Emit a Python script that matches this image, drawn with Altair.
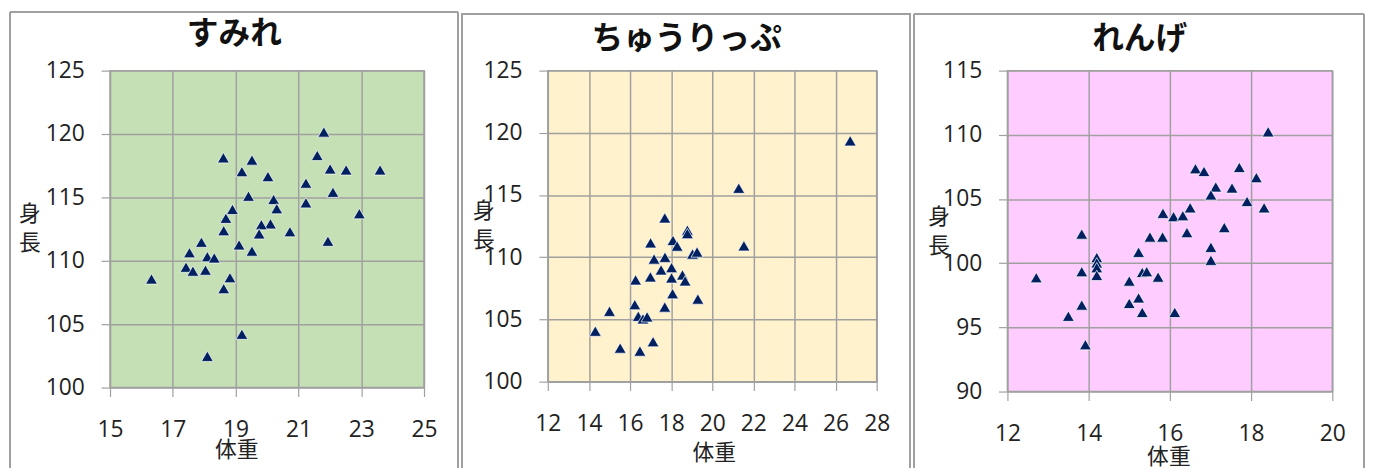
import altair as alt
import pandas as pd

# ---- data ----
sumire_weight = [18.61, 19.52, 19.20, 20.03, 19.41, 18.90, 18.69, 18.62, 17.91, 17.53,
                 18.10, 18.32, 17.42, 17.64, 18.04, 16.32, 18.82, 18.62, 19.11, 19.52,
                 19.20, 18.10, 21.81, 21.60, 22.01, 22.52, 23.60, 21.24, 22.10, 20.21,
                 20.31, 21.24, 22.94, 20.11, 19.82, 19.75, 20.73, 21.94]
sumire_height = [118.13, 117.95, 117.04, 116.65, 115.10, 114.06, 113.36, 112.38, 111.47, 110.64,
                 110.33, 110.23, 109.50, 109.19, 109.27, 108.57, 108.67, 107.81, 111.26, 110.77,
                 104.21, 102.47, 120.16, 118.31, 117.25, 117.17, 117.17, 116.13, 115.41, 114.84,
                 114.11, 114.58, 113.72, 112.92, 112.85, 112.13, 112.30, 111.55]

tulip_weight = [17.69, 18.79, 18.79, 17.00, 18.09, 18.29, 19.04, 19.26, 17.17, 17.70,
                17.51, 18.02, 16.27, 16.99, 18.02, 18.55, 18.68, 18.07, 19.30, 17.69,
                16.23, 15.00, 16.40, 16.63, 16.83, 14.31, 17.12, 15.52, 16.48, 26.71,
                21.29, 21.54]
tulip_height = [113.16, 112.17, 111.90, 111.16, 111.35, 110.90, 110.26, 110.42, 109.86, 110.00,
                108.98, 109.17, 108.18, 108.42, 108.34, 108.58, 108.10, 107.07, 106.64, 106.00,
                106.19, 105.66, 105.26, 105.05, 105.21, 104.06, 103.21, 102.70, 102.46, 119.36,
                115.55, 110.92]

renge_weight = [15.83, 15.51, 15.82, 13.83, 15.23, 14.20, 14.20, 14.20, 14.20, 13.83,
                12.71, 15.00, 15.32, 15.43, 15.71, 15.23, 15.00, 15.32, 13.83, 13.50,
                13.92, 18.42, 16.63, 16.84, 17.71, 18.13, 17.13, 17.01, 17.53, 17.90,
                18.32, 16.50, 16.09, 16.32, 16.42, 17.34, 17.01, 17.01, 16.12]
renge_height = [103.89, 102.04, 102.04, 102.27, 100.85, 100.44, 100.03, 99.65, 99.05, 99.34,
                98.87, 98.61, 99.28, 99.34, 98.92, 97.30, 96.87, 96.17, 96.74, 95.87,
                93.65, 110.24, 107.36, 107.15, 107.46, 106.67, 105.94, 105.32, 105.86, 104.81,
                104.32, 104.32, 103.63, 103.70, 102.39, 102.78, 101.24, 100.23, 96.17]

titles = ["すみれ", "ちゅうりっぷ", "れんげ"]
x_domains = [[15, 25], [12, 28], [12, 20]]
x_ticks = [[15, 17, 19, 21, 23, 25], [12, 14, 16, 18, 20, 22, 24, 26, 28], [12, 14, 16, 18, 20]]
y_domains = [[100, 125], [100, 125], [90, 115]]
y_ticks = [[100, 105, 110, 115, 120, 125], [100, 105, 110, 115, 120, 125], [90, 95, 100, 105, 110, 115]]

# ---- styling / layout per panel ----
fills = ["#c5e0b4", "#fff2cc", "#ffccff"]
widths = [317, 332, 328]
heights = [320, 314, 324]
frame_left = [-101, -87, -94]
frame_right = [351, 366, 360]
frame_top = [-59, -57, -57]
title_y = [-37.5, -32, -32.5]
ytitle_x = [-81.5, -65, -69.5]
ytitle_y = [134, 131, 137]
xtitle_x = [127.5, 167.5, 162.5]
xtitle_y = [62.5, 72, 65.5]

GRID = "#a0a0a0"
LABEL_FONT = "Open Sans"
JP_FONT = "Noto Sans CJK JP"

datasets = [
    (sumire_weight, sumire_height),
    (tulip_weight, tulip_height),
    (renge_weight, renge_height),
]

panels = []
for i, (wx, hy) in enumerate(datasets):
    df = pd.DataFrame({"体重": wx, "身長": hy})
    fb = 401
    xscale = alt.Scale(domain=x_domains[i], nice=False, zero=False)
    yscale = alt.Scale(domain=y_domains[i], nice=False, zero=False)

    pts = alt.Chart(df).mark_point(
        shape="triangle-up", filled=True, size=145, color="#002060",
        stroke="white", strokeWidth=0.7, opacity=1
    ).encode(
        x=alt.X("体重:Q", scale=xscale,
                axis=alt.Axis(values=x_ticks[i], grid=True, gridColor=GRID, gridWidth=1.5,
                              domain=False, tickColor=GRID, tickSize=9, tickWidth=1.2,
                              labelFont=LABEL_FONT, labelFontSize=23, labelColor="#222222",
                              labelPadding=22, labelFlush=False,
                              title="体重", titleFont=JP_FONT, titleFontSize=22,
                              titleFontWeight="normal", titleColor="#222222",
                              titleX=xtitle_x[i], titleY=xtitle_y[i],
                              titleBaseline="middle", titleAlign="center")),
        y=alt.Y("身長:Q", scale=yscale,
                axis=alt.Axis(values=y_ticks[i], grid=True, gridColor=GRID, gridWidth=1.5,
                              domain=False, tickColor=GRID, tickSize=9, tickWidth=1.2,
                              labelFont=LABEL_FONT, labelFontSize=23, labelColor="#222222",
                              labelPadding=17, labelFlush=False,
                              title=["身", "長"], titleFont=JP_FONT, titleFontSize=22,
                              titleFontWeight="normal", titleColor="#222222",
                              titleAngle=0, titleX=ytitle_x[i], titleY=ytitle_y[i],
                              titleBaseline="top", titleAlign="center", titleLineHeight=30)),
    )

    # chart title carried by a label-less top axis so it can sit inside the frame
    title_layer = alt.Chart(df).mark_point(opacity=0).encode(
        x=alt.X("体重:Q", scale=xscale,
                axis=alt.Axis(orient="top", labels=False, ticks=False, domain=False, grid=False,
                              title=titles[i], titleFont=JP_FONT, titleFontSize=32,
                              titleFontWeight="bold", titleColor="#111111",
                              titleX=(frame_left[i] + frame_right[i]) / 2, titleY=title_y[i],
                              titleBaseline="middle", titleAlign="center")),
    )

    frame_style = dict(color="#a0a0a0", strokeWidth=1.2)
    top_line = alt.Chart(df).mark_rule(**frame_style).encode(
        x=alt.value(frame_left[i]), x2=alt.value(frame_right[i]),
        y=alt.value(frame_top[i]))
    left_line = alt.Chart(df).mark_rule(**frame_style).encode(
        x=alt.value(frame_left[i]), y=alt.value(frame_top[i]), y2=alt.value(fb))
    right_line = alt.Chart(df).mark_rule(**frame_style).encode(
        x=alt.value(frame_right[i]), y=alt.value(frame_top[i]), y2=alt.value(fb))

    layer = alt.layer(top_line, left_line, right_line, pts, title_layer).resolve_axis(
        x="independent"
    ).properties(
        width=widths[i], height=heights[i],
        view=alt.ViewBackground(fill=fills[i], stroke=GRID, strokeWidth=1.5),
    )
    panels.append(layer)

chart = alt.hconcat(*panels, spacing=0).properties(
    padding={"left": 0, "top": 0, "right": 0, "bottom": 0},
    background="white",
)

chart.save("out.html", embed_options={"renderer": "svg", "actions": False})
